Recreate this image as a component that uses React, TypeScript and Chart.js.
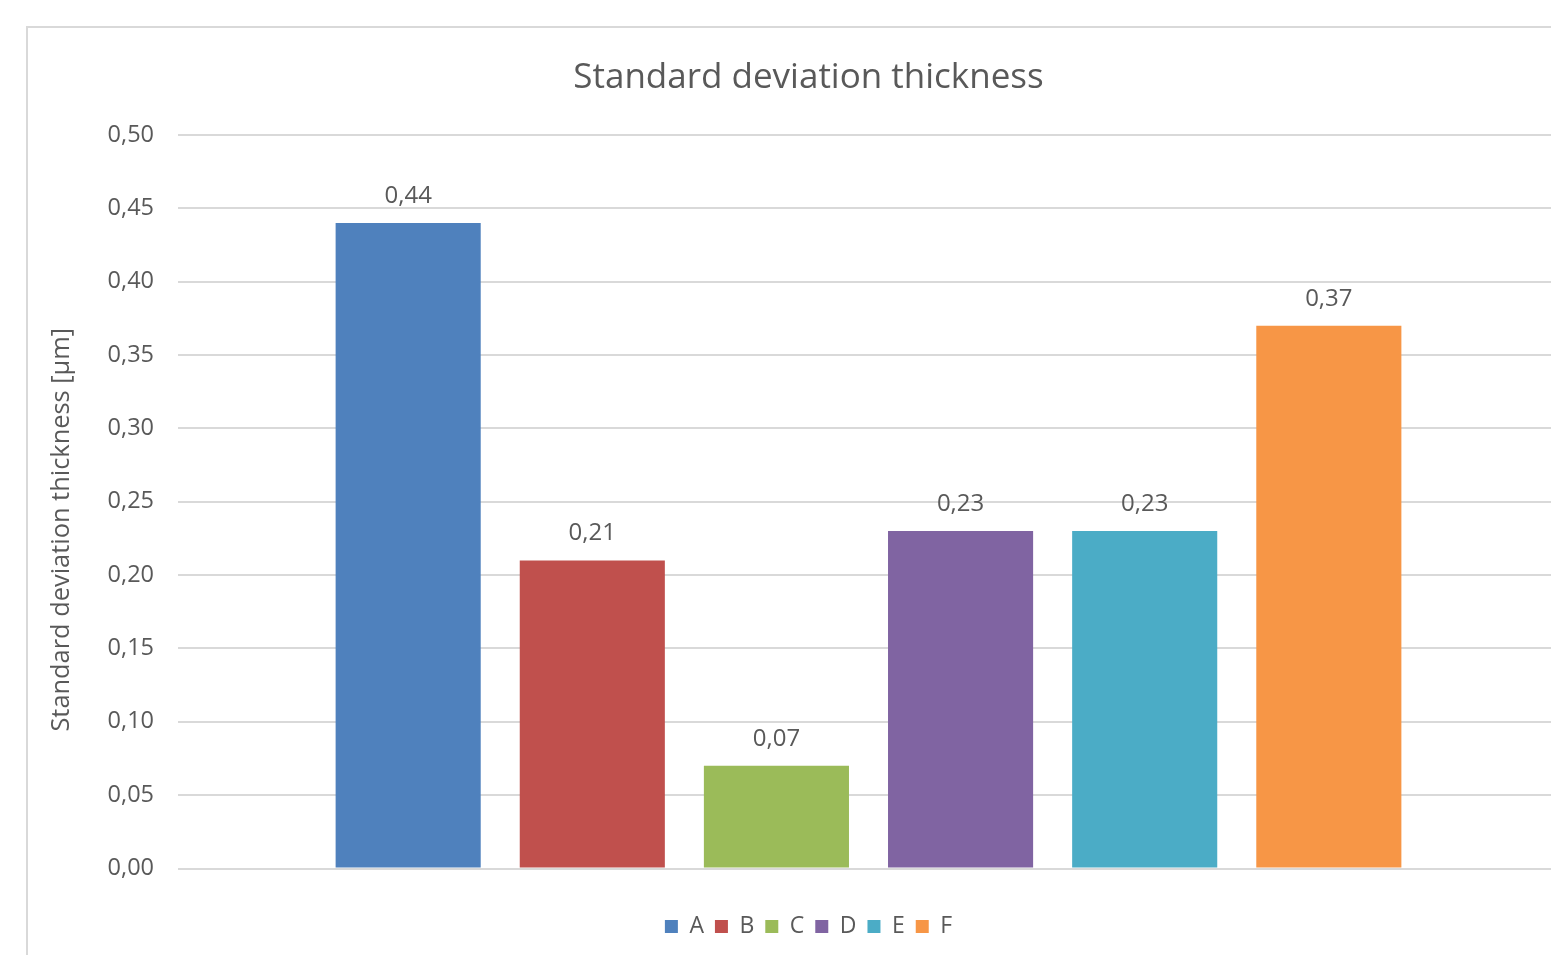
import React, { useEffect, useRef } from "react";
import { Chart, registerables } from "chart.js";

Chart.register(...registerables);

const categories: string[] = [""];
const seriesNames: string[] = ["A", "B", "C", "D", "E", "F"];
const seriesValues: number[] = [0.44, 0.21, 0.07, 0.23, 0.23, 0.37];
const seriesColors: string[] = ["#4F81BD", "#C0504D", "#9BBB59", "#8064A2", "#4BACC6", "#F79646"];
const yTicks = { min: 0, max: 0.5, step: 0.05 };
const chartTitle = "Standard deviation thickness";
const yAxisTitle = "Standard deviation thickness [µm]";

const TEXT = "#595959";
const FONT = "'Open Sans', 'DejaVu Sans', sans-serif";
const fmt = (v: number) => v.toFixed(2).replace(".", ",");

const dataLabels = {
  id: "dataLabels",
  afterDatasetsDraw(chart: any) {
    const ctx = chart.ctx;
    ctx.save();
    ctx.font = `24px ${FONT}`;
    ctx.fillStyle = TEXT;
    ctx.textAlign = "center";
    ctx.textBaseline = "middle";
    chart.data.datasets.forEach((ds: any, i: number) => {
      const meta = chart.getDatasetMeta(i);
      meta.data.forEach((el: any, j: number) => {
        ctx.fillText(fmt(ds.data[j]), el.x, el.y - 27);
      });
    });
    ctx.restore();
  },
};

// Y-axis title, placed like Excel's (a little below the plot's middle)
const yTitlePlugin = {
  id: "yTitle",
  afterDraw(chart: any) {
    const ctx = chart.ctx;
    const area = chart.chartArea;
    ctx.save();
    ctx.font = `25.4px ${FONT}`;
    ctx.fillStyle = TEXT;
    ctx.textAlign = "center";
    ctx.textBaseline = "middle";
    ctx.translate(area.left - 116, (area.top + area.bottom) / 2 + 28);
    ctx.rotate(-Math.PI / 2);
    ctx.fillText(yAxisTitle, 0, 0);
    ctx.restore();
  },
};

export default function App() {
  const ref = useRef<HTMLCanvasElement>(null);
  useEffect(() => {
    if (!ref.current) return;
    const chart = new Chart(ref.current, {
      type: "bar",
      data: {
        labels: categories,
        datasets: seriesNames.map((name, i) => ({
          label: name,
          data: [seriesValues[i]],
          backgroundColor: seriesColors[i],
          borderWidth: 0,
          categoryPercentage: 0.8,
          barPercentage: 0.788,
        })),
      },
      options: {
        responsive: false,
        animation: false,
        layout: { padding: { left: 58, right: 41, top: 0, bottom: 52 } },
        plugins: {
          tooltip: { enabled: false },
          title: {
            display: true,
            text: chartTitle,
            color: TEXT,
            font: { family: FONT, size: 35, weight: "normal" },
            padding: { top: 57.5, bottom: 35.5 },
          },
          legend: {
            position: "bottom",
            labels: {
              boxWidth: 13,
              boxHeight: 13,
              padding: 11,
              color: TEXT,
              font: { family: FONT, size: 23 },
            },
          },
        },
        scales: {
          x: {
            display: true,
            grid: { display: false },
            border: { display: false },
            ticks: { display: false },
            afterFit: (s: any) => {
              s.height = 35.5;
            },
          },
          y: {
            min: yTicks.min,
            max: yTicks.max,
            afterFit: (s: any) => {
              s.width = 120;
            },
            grid: { color: "#D9D9D9", lineWidth: 2, drawTicks: false },
            border: { display: false },
            ticks: {
              stepSize: yTicks.step,
              padding: 24,
              color: TEXT,
              font: { family: FONT, size: 23.5 },
              callback: (v: any) => fmt(Number(v)),
            },
          },
        },
      },
      plugins: [dataLabels, yTitlePlugin],
    });
    return () => chart.destroy();
  }, []);

  return (
    <div style={{ position: "fixed", left: 0, top: 0, width: 1551, height: 955, overflow: "hidden", background: "#fff" }}>
      <div
        style={{
          position: "absolute",
          left: 26,
          top: 26,
          width: 2000,
          height: 2000,
          borderLeft: "2px solid #D9D9D9",
          borderTop: "2px solid #D9D9D9",
        }}
      />
      <canvas
        ref={ref}
        width={1600}
        height={1000}
        style={{ position: "absolute", left: 0, top: 0, width: 1600, height: 1000 }}
      />
    </div>
  );
}
